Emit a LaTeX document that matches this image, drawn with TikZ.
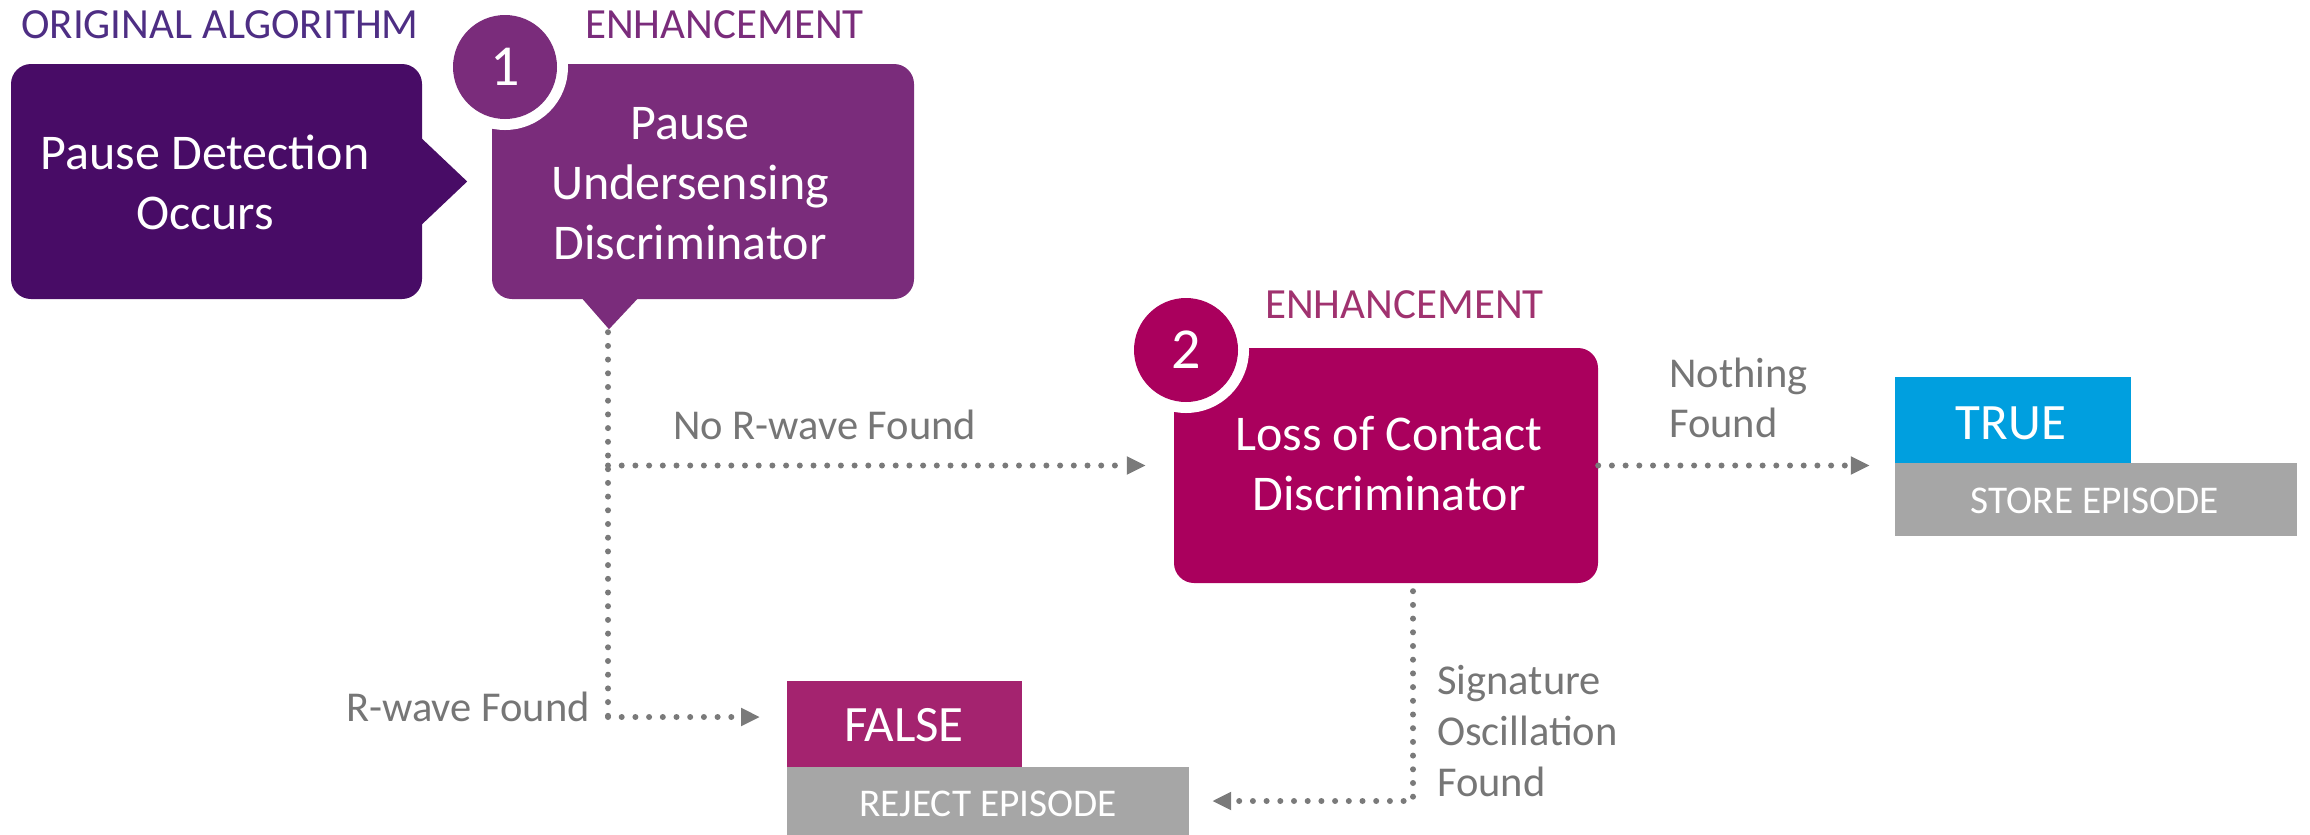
\documentclass[tikz,border=0pt]{standalone}
\usepackage{fontspec}
\setmainfont{Carlito}
\usetikzlibrary{arrows.meta}
\definecolor{cOrig}{HTML}{480C66}
\definecolor{cEnhA}{HTML}{7A2C7B}
\definecolor{cOrigTxt}{HTML}{4E2E84}
\definecolor{cEnhB}{HTML}{AA005D}
\definecolor{cEnhBTxt}{HTML}{A0326F}
\definecolor{cFalse}{HTML}{A4236F}
\definecolor{cTrue}{HTML}{009FDF}
\definecolor{cGrayBox}{HTML}{A6A6A6}
\definecolor{cGrayTxt}{HTML}{767676}
\definecolor{cConn}{HTML}{7A7A7A}
\newcommand{\mlc}[1]{\begin{tabular}[t]{@{}c@{}}#1\end{tabular}}
\newcommand{\mll}[1]{\begin{tabular}[t]{@{}l@{}}#1\end{tabular}}
\tikzset{
  bigbox/.style={rectangle, rounded corners=20pt, inner sep=0pt, minimum height=235pt},
  flatbox/.style={rectangle, inner sep=0pt},
  numcirc/.style={circle, inner sep=0pt, minimum size=104pt, text=white,
     font=\fontsize{58}{60}\selectfont, preaction={draw=white, line width=22pt}},
  boxtxt/.style={inner sep=0pt, anchor=base, text=white, font=\fontsize{50}{60}\selectfont},
  headtxt/.style={inner sep=0pt, anchor=base west, font=\fontsize{43}{48}\selectfont},
  graytxt/.style={inner sep=0pt, text=cGrayTxt, font=\fontsize{42.5}{50}\selectfont},
  restxt/.style={inner sep=0pt, anchor=base, text=white, font=\fontsize{39.3}{44}\selectfont},
  conn/.style={draw=cConn, line width=6pt, line cap=round, dash pattern=on 0pt off 13.7pt,
     -{Triangle[length=19pt, width=17pt]}},
  connplain/.style={draw=cConn, line width=6pt, line cap=round, dash pattern=on 0pt off 13.7pt}
}
\begin{document}
\begin{tikzpicture}[x=1pt, y=-1pt]
\useasboundingbox (0,0) rectangle (2310,835);

% headings
\node[headtxt, text=cOrigTxt] (hOrig) at (21,38.5) {ORIGINAL ALGORITHM};
\node[headtxt, text=cEnhA] (hEnh1) at (585,38.5) {ENHANCEMENT};
\node[headtxt, text=cEnhBTxt] (hEnh2) at (1265,318.5) {ENHANCEMENT};

% box 1
\node[bigbox, fill=cOrig, minimum width=411pt] (b1) at (216.5,181.5) {};
\fill[cOrig] ([xshift=-2pt, yshift=44.5pt]b1.east) -- ([xshift=45pt]b1.east) -- ([xshift=-2pt, yshift=-44.5pt]b1.east) -- cycle;
\node[boxtxt] (t1) at (205,169) {\mlc{Pause Detection\\Occurs}};

% box 2
\node[bigbox, fill=cEnhA, minimum width=422pt] (b2) at (703,181.5) {};
\fill[cEnhA] ([xshift=-122pt, yshift=2pt]b2.south) -- ([xshift=-94pt, yshift=-30pt]b2.south) -- ([xshift=-64pt, yshift=2pt]b2.south) -- cycle;
\coordinate (p1) at ([xshift=-95pt, yshift=-33pt]b2.south);
\node[numcirc, fill=cEnhA] (n1) at (505,67) {1};
\node[boxtxt] (t2) at (690,139) {\mlc{Pause\\Undersensing\\Discriminator}};

% box 3
\node[bigbox, fill=cEnhB, minimum width=424pt] (b3) at (1386,465.5) {};
\node[numcirc, fill=cEnhB] (n2) at (1186,350) {2};
\node[boxtxt] (t3) at (1389,450) {\mlc{Loss of Contact\\Discriminator}};

% result boxes
\node[flatbox, fill=cTrue, minimum width=236pt, minimum height=86pt] (tr) at (2013,420) {};
\node[flatbox, fill=cGrayBox, minimum width=402pt, minimum height=73pt] (st) at (2096,499.5) {};
\node[boxtxt, font=\fontsize{51}{60}\selectfont] (trt) at (2011,439) {TRUE};
\node[restxt] (stt) at (2095,513.5) {STORE EPISODE};

\node[flatbox, fill=cFalse, minimum width=235pt, minimum height=86pt] (fa) at (904.5,724) {};
\node[flatbox, fill=cGrayBox, minimum width=402pt, minimum height=68pt] (rj) at (988,801) {};
\node[boxtxt, font=\fontsize{51}{60}\selectfont] (fat) at (904,741) {FALSE};
\node[restxt] (rjt) at (988,816.5) {REJECT EPISODE};

% labels
\node[graytxt, anchor=base west] (lNoR) at (673,439) {No R-wave Found};
\node[graytxt, anchor=base west] (lNoth) at (1669,387) {\mll{Nothing\\Found}};
\node[graytxt, anchor=base east] (lR) at (590,721) {R-wave Found};
\node[graytxt, anchor=base west, font=\fontsize{42.5}{51}\selectfont] (lSig) at (1437,694) {\mll{Signature\\Oscillation\\Found}};

% connectors
\coordinate (j1) at (p1 |- b3.west);
\coordinate (j2) at (608,717);
\coordinate (rtip) at (760,717);
\draw[connplain] (p1) -- (j2);
\draw[conn, shorten >=28pt] (j1) -- (b3.west);
\draw[conn] (j2) -- (rtip);
\draw[conn, shorten >=25pt] (b3.east) -- (b3.east -| st.west);
\coordinate (d1) at ([xshift=27pt, yshift=-8pt]b3.south);
\coordinate (d2) at (d1 |- rj.east);
\draw[conn, shorten >=23pt] (d1) -- (d2) -- (rj.east);
\end{tikzpicture}
\end{document}
